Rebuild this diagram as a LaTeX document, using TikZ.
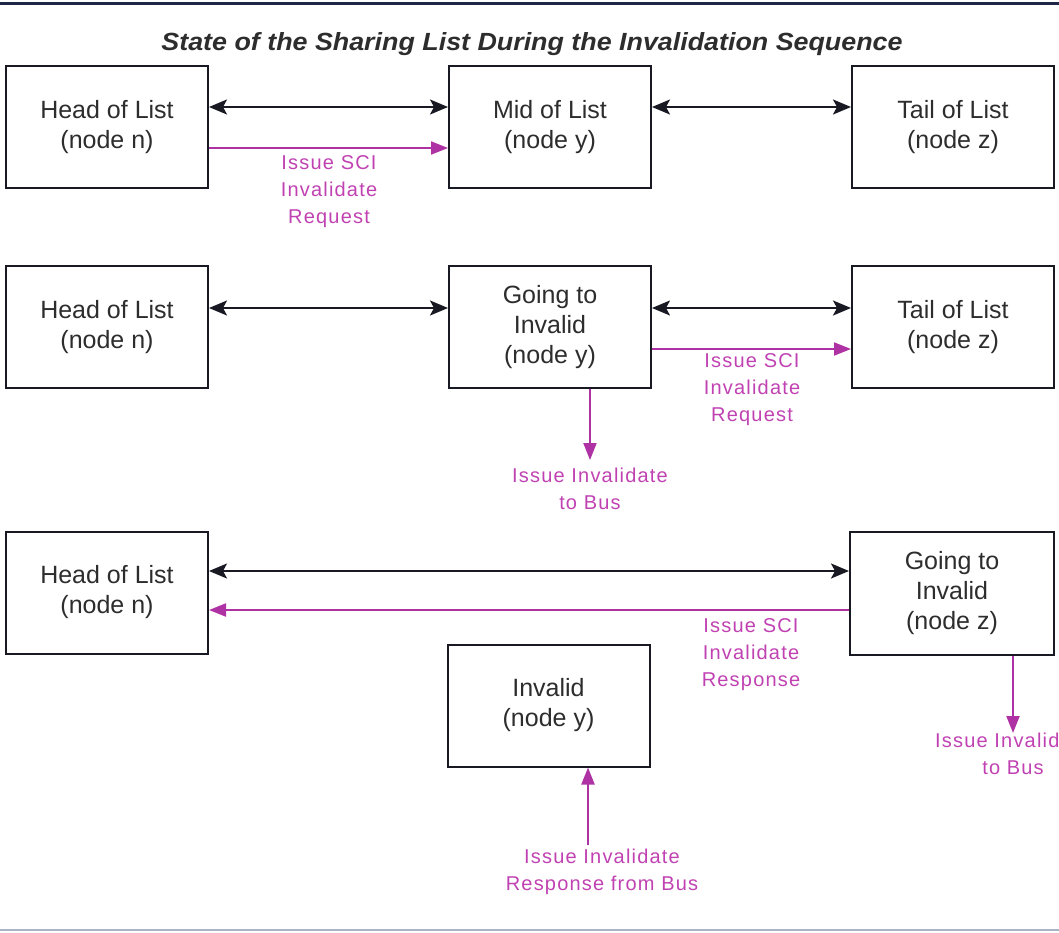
\documentclass[tikz,border=0pt]{standalone}
\usepackage{fontspec}
\setmainfont{Liberation Sans}
\usetikzlibrary{arrows.meta}

\definecolor{inkline}{RGB}{25,25,35}
\definecolor{inktext}{RGB}{45,45,45}
\definecolor{sciPink}{RGB}{192,66,178}
\definecolor{sciPinkLine}{RGB}{175,50,165}
\definecolor{ruleTop}{RGB}{30,40,70}
\definecolor{ruleBottom}{RGB}{170,180,198}

\tikzset{
  statebox/.style={draw=inkline, line width=2pt, fill=white, text=inktext,
    minimum width=202pt, minimum height=122pt, align=center, inner sep=0pt,
    font=\fontsize{25}{30}\selectfont},
  link/.style={draw=inkline, line width=2pt,
    {Stealth[length=18pt,width=15pt,inset=4pt]}-{Stealth[length=18pt,width=15pt,inset=4pt]}},
  msg/.style={draw=sciPinkLine, line width=2pt,
    -{Triangle[length=17pt,width=13pt]}},
  msglabel/.style={text=sciPink, align=center, inner sep=0pt, anchor=north,
    font=\fontsize{20}{27}\selectfont\addfontfeature{LetterSpace=6}}
}

\begin{document}
\begin{tikzpicture}[x=1pt,y=-1pt]
\useasboundingbox (0,0) rectangle (1059,932);
\clip (0,0) rectangle (1059,932);

% rules and heading
\draw[ruleTop, line width=3pt] (0,3) -- (1059,3);
\draw[ruleBottom, line width=1.5pt] (0,930) -- (1059,930);
\node[text=inktext, inner sep=0pt, anchor=base] (title) at (532,50)
  {\resizebox{741pt}{18pt}{\bfseries\itshape State of the Sharing List During the Invalidation Sequence}};

% first stage
\node[statebox] (h1) at (107,127) {Head of List\\(node n)};
\node[statebox] (m1) at (550,127) {Mid of List\\(node y)};
\node[statebox] (t1) at (953,127) {Tail of List\\(node z)};
\draw[link] ([yshift=20pt]h1.east) -- ([yshift=20pt]m1.west);
\draw[link] ([yshift=20pt]m1.east) -- ([yshift=20pt]t1.west);
\draw[msg] ([yshift=-21pt]h1.east) -- ([yshift=-21pt]m1.west);
\node[msglabel] (l1) at (329,155.5) {Issue SCI\\Invalidate\\Request};

% second stage
\node[statebox] (h2) at (107,327) {Head of List\\(node n)};
\node[statebox] (g2) at (550,327) {Going to\\Invalid\\(node y)};
\node[statebox] (t2) at (953,327) {Tail of List\\(node z)};
\draw[link] ([yshift=19pt]h2.east) -- ([yshift=19pt]g2.west);
\draw[link] ([yshift=19pt]g2.east) -- ([yshift=19pt]t2.west);
\draw[msg] ([yshift=-22pt]g2.east) -- ([yshift=-22pt]t2.west);
\node[msglabel] (l2) at (752,353.5) {Issue SCI\\Invalidate\\Request};
\coordinate (b2) at (590,460);
\draw[msg] ([xshift=40pt]g2.south) -- (b2);
\node[msglabel] (l2b) at (590,467.5) {Issue Invalidate\\to Bus};

% third stage
\node[statebox] (h3) at (107,592.5) {Head of List\\(node n)};
\node[statebox, minimum width=204pt, minimum height=123pt] (g3) at (952,593.5) {Going to\\Invalid\\(node z)};
\node[statebox] (i3) at (548.5,705.5) {Invalid\\(node y)};
\draw[link] (h3.east |- 0,571) -- (g3.west |- 0,571);
\draw[msg] (g3.west |- 0,610) -- (h3.east |- 0,610);
\node[msglabel] (l3) at (751,618.5) {Issue SCI\\Invalidate\\Response};
\coordinate (b3) at (1013,733);
\draw[msg] ([xshift=61pt]g3.south) -- (b3);
\node[msglabel] (l3b) at (1013,732.5) {Issue Invalidate\\to Bus};
\coordinate (u3) at (588,845);
\draw[msg] (u3) -- ([xshift=39.5pt]i3.south);
\node[msglabel] (l4) at (602,848.5) {Issue Invalidate\\Response from Bus};
\end{tikzpicture}
\end{document}
